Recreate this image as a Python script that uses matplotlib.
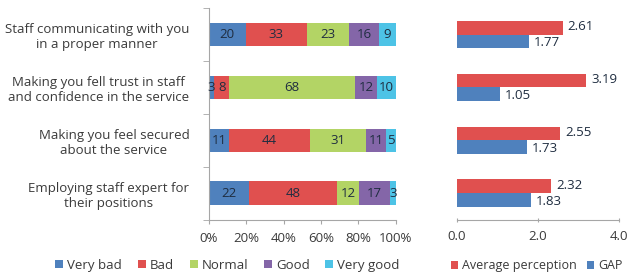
import matplotlib
matplotlib.use("Agg")
import matplotlib.pyplot as plt
import numpy as np

categories = [
    "Staff communicating with you\nin a proper manner",
    "Making you fell trust in staff\nand confidence in the service",
    "Making you feel secured\nabout the service",
    "Employing staff expert for\ntheir positions",
]
levels = ["Very bad", "Bad", "Normal", "Good", "Very good"]
very_bad = [20, 3, 11, 22]
bad = [33, 8, 44, 48]
normal = [23, 68, 31, 12]
good = [16, 12, 11, 17]
very_good = [9, 10, 5, 3]
avg_perception = [2.61, 3.19, 2.55, 2.32]
gap = [1.77, 1.05, 1.73, 1.83]
pct_ticks = ["0%", "20%", "40%", "60%", "80%", "100%"]
right_ticks = ["0.0", "2.0", "4.0"]

colors = ["#4F81BD", "#E0504F", "#B3D465", "#8466A8", "#4DC3E6"]
txt = "#3A3A3A"
spine_c = "#A6A6A6"
fs = 9.5

plt.rcParams["font.family"] = ["Open Sans", "DejaVu Sans"]

fig = plt.figure(figsize=(6.29, 2.80), dpi=100)
ax1 = fig.add_axes([0.332, 0.216, 0.297, 0.755])
ax2 = fig.add_axes([0.7266, 0.216, 0.2576, 0.755])

data = np.array([very_bad, bad, normal, good, very_good], dtype=float)
totals = data.sum(axis=0)
frac = data / totals * 100
y = np.arange(len(categories))
left = np.zeros(len(categories))
handles = []
for i, lvl in enumerate(levels):
    b = ax1.barh(y, frac[i], left=left, height=0.44, color=colors[i], label=lvl)
    handles.append(b)
    for j in range(len(categories)):
        ax1.text(left[j] + frac[i][j] / 2, y[j], f"{int(data[i][j])}",
                 ha="center", va="center", fontsize=fs, color="#1F2D40")
    left += frac[i]

ax1.set_xlim(0, 100)
ax1.set_ylim(len(categories) - 0.5, -0.5)
ax1.set_xticks(np.linspace(0, 100, 6))
ax1.set_xticklabels(pct_ticks, fontsize=fs, color=txt)
ax1.set_yticks(y)
ax1.set_yticklabels(categories, fontsize=fs, color=txt, multialignment="center")
ax1.yaxis.set_tick_params(length=0, pad=14)
ax1.set_yticks(np.arange(-0.5, len(categories)), minor=True)
ax1.tick_params(axis="y", which="minor", length=4, color=spine_c, direction="out")
ax1.tick_params(axis="x", length=3, color=spine_c, direction="out", pad=6)
for s in ["top", "right"]:
    ax1.spines[s].set_visible(False)
for s in ["left", "bottom"]:
    ax1.spines[s].set_color(spine_c)

ax1.legend(handles, levels, loc="upper center", bbox_to_anchor=(0.1, -0.13),
           ncol=5, frameon=False, fontsize=fs, handlelength=0.6, handleheight=0.6,
           columnspacing=1.2, handletextpad=0.3, labelcolor=txt)

h = 0.26
r1 = ax2.barh(y - h / 2, avg_perception, height=h, color=colors[1], label="Average perception")
r2 = ax2.barh(y + h / 2, gap, height=h, color=colors[0], label="GAP")
for j in range(len(categories)):
    ax2.text(avg_perception[j] + 0.12, y[j] - h / 2 - 0.02, f"{avg_perception[j]:.2f}",
             ha="left", va="center", fontsize=fs, color="#1F2D40")
    ax2.text(gap[j] + 0.12, y[j] + h / 2 + 0.02, f"{gap[j]:.2f}",
             ha="left", va="center", fontsize=fs, color="#1F2D40")
ax2.set_xlim(0, 4)
ax2.set_ylim(len(categories) - 0.5, -0.5)
ax2.set_xticks([0, 2, 4])
ax2.set_xticklabels(right_ticks, fontsize=fs, color=txt)
ax2.set_yticks([])
ax2.tick_params(axis="x", length=3, color=spine_c, direction="inout", pad=6)
for s in ["top", "right", "left"]:
    ax2.spines[s].set_visible(False)
ax2.spines["bottom"].set_color(spine_c)
ax2.legend([r1, r2], ["Average perception", "GAP"], loc="upper left",
           bbox_to_anchor=(-0.07, -0.165), ncol=2, frameon=False, fontsize=9,
           handlelength=0.6, handleheight=0.6, columnspacing=0.8, handletextpad=0.3,
           labelcolor=txt, borderaxespad=0.0)

fig.savefig("out.png", dpi=100)
